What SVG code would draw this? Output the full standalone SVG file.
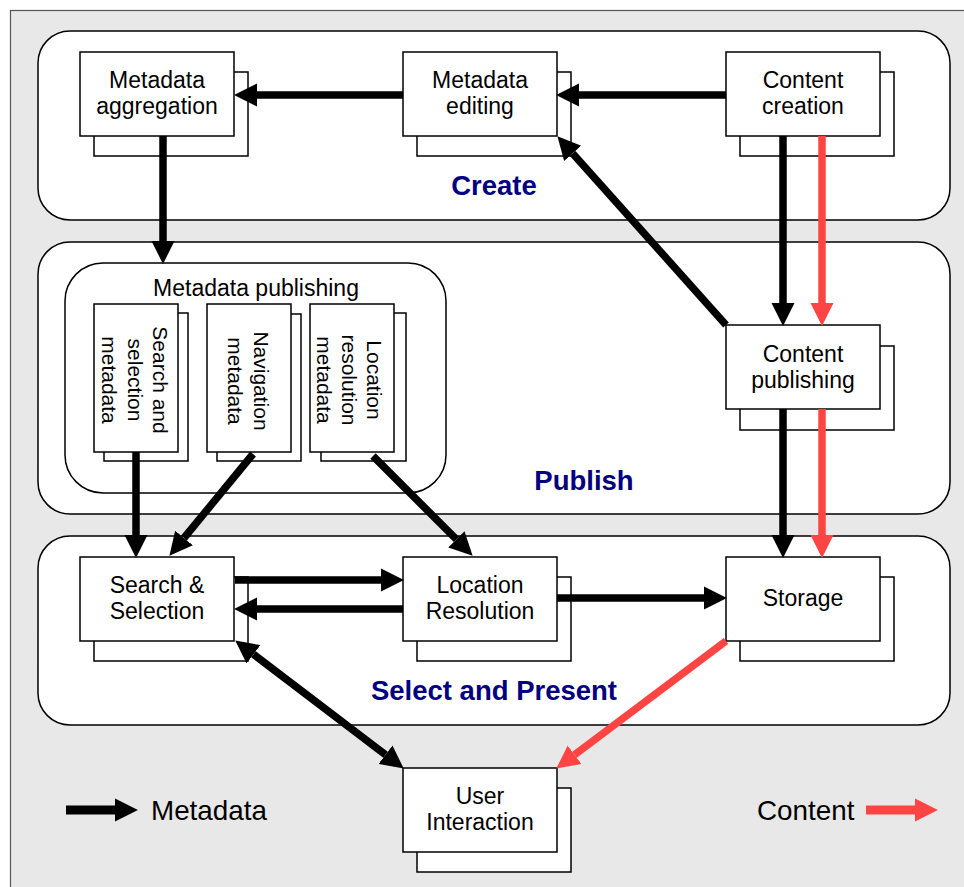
<svg xmlns="http://www.w3.org/2000/svg" width="964" height="887" viewBox="0 0 964 887">
<defs>
<style>
.frame{fill:#e8e8e8;stroke:#555;stroke-width:1.2}
.grp{fill:#fff;stroke:#000;stroke-width:1.5}
.box{fill:#fff;stroke:#000;stroke-width:1.5}
.t{font-family:"Liberation Sans",Arial,sans-serif;font-size:23px;fill:#000;text-anchor:middle}
.tv{font-family:"Liberation Sans",Arial,sans-serif;font-size:21px;fill:#000;text-anchor:middle}
.lbl{font-family:"Liberation Sans",Arial,sans-serif;font-size:27.5px;font-weight:bold;fill:#000080;text-anchor:middle}
.leg{font-family:"Liberation Sans",Arial,sans-serif;font-size:27.8px;fill:#000}
.m{stroke:#000;stroke-width:7.5;fill:none;marker-end:url(#ha)}
.c{stroke:#ff4444;stroke-width:7.5;fill:none;marker-end:url(#hr)}
</style>
<marker id="ha" markerUnits="userSpaceOnUse" markerWidth="24" markerHeight="24" refX="0" refY="11" orient="auto" viewBox="0 0 23 22"><path d="M0,0 L22,11 L0,22 z" fill="#000"/></marker>
<marker id="has" markerUnits="userSpaceOnUse" markerWidth="24" markerHeight="24" refX="0" refY="11" orient="auto-start-reverse" viewBox="0 0 23 22"><path d="M0,0 L22,11 L0,22 z" fill="#000"/></marker>
<marker id="hr" markerUnits="userSpaceOnUse" markerWidth="24" markerHeight="24" refX="0" refY="11" orient="auto" viewBox="0 0 23 22"><path d="M0,0 L22,11 L0,22 z" fill="#ff4444"/></marker>
</defs>
<rect class="frame" x="10.5" y="10.5" width="970" height="890"/>

<g id="create">
<rect class="grp" x="38" y="31" width="912" height="189" rx="32"/>
<text class="lbl" x="494" y="195">Create</text>
</g>
<g id="publish">
<rect class="grp" x="38" y="242" width="912" height="272" rx="32"/>
<text class="lbl" x="584" y="490">Publish</text>
</g>
<g id="select">
<rect class="grp" x="38" y="536" width="912" height="189" rx="32"/>
<text class="lbl" x="494" y="700">Select and Present</text>
</g>

<g id="metadata-aggregation">
<rect class="box" x="94" y="72" width="154" height="84"/>
<rect class="box" x="80" y="52" width="154" height="84"/>
<text class="t" x="157" y="88">Metadata</text>
<text class="t" x="157" y="114">aggregation</text>
</g>
<g id="metadata-editing">
<rect class="box" x="417" y="72" width="154" height="84"/>
<rect class="box" x="403" y="52" width="154" height="84"/>
<text class="t" x="480" y="88">Metadata</text>
<text class="t" x="480" y="114">editing</text>
</g>
<g id="content-creation">
<rect class="box" x="740" y="72" width="154" height="84"/>
<rect class="box" x="726" y="52" width="154" height="84"/>
<text class="t" x="803" y="88">Content</text>
<text class="t" x="803" y="114">creation</text>
</g>
<g id="content-publishing">
<rect class="box" x="740" y="346" width="154" height="84"/>
<rect class="box" x="726" y="325" width="154" height="84"/>
<text class="t" x="803" y="362">Content</text>
<text class="t" x="803" y="388">publishing</text>
</g>

<g id="metadata-publishing">
<rect class="grp" x="65" y="263" width="381" height="230" rx="38"/>
<text class="t" x="256" y="296">Metadata publishing</text>
<g id="search-selection-metadata">
<rect class="box" x="104" y="313" width="84" height="148"/>
<rect class="box" x="94" y="304" width="84" height="148"/>
<g transform="translate(136,380) rotate(90)">
<text class="tv" x="0" y="-17">Search and</text>
<text class="tv" x="0" y="8.5">selection</text>
<text class="tv" x="0" y="34">metadata</text>
</g>
</g>
<g id="navigation-metadata">
<rect class="box" x="217" y="314" width="84" height="147"/>
<rect class="box" x="207" y="304" width="84" height="148"/>
<g transform="translate(249.5,381) rotate(90)">
<text class="tv" x="0" y="-4">Navigation</text>
<text class="tv" x="0" y="21.5">metadata</text>
</g>
</g>
<g id="location-resolution-metadata">
<rect class="box" x="321" y="313" width="85" height="148"/>
<rect class="box" x="310" y="304" width="84" height="148"/>
<g transform="translate(352,380) rotate(90)">
<text class="tv" x="0" y="-15">Location</text>
<text class="tv" x="0" y="10">resolution</text>
<text class="tv" x="0" y="35">metadata</text>
</g>
</g>
</g>

<g id="search-selection">
<rect class="box" x="94" y="577" width="154" height="84"/>
<rect class="box" x="80" y="557" width="154" height="84"/>
<text class="t" x="157" y="593">Search &amp;</text>
<text class="t" x="157" y="619">Selection</text>
</g>
<g id="location-resolution">
<rect class="box" x="417" y="577" width="154" height="84"/>
<rect class="box" x="403" y="557" width="154" height="84"/>
<text class="t" x="480" y="593">Location</text>
<text class="t" x="480" y="619">Resolution</text>
</g>
<g id="storage">
<rect class="box" x="740" y="577" width="154" height="84"/>
<rect class="box" x="726" y="557" width="154" height="84"/>
<text class="t" x="803" y="606">Storage</text>
</g>
<g id="user-interaction">
<rect class="box" x="417" y="788" width="154" height="84"/>
<rect class="box" x="403" y="768" width="154" height="84"/>
<text class="t" x="480" y="804">User</text>
<text class="t" x="480" y="830">Interaction</text>
</g>

<g id="connectors">
<line class="m" x1="403" y1="95" x2="257" y2="95"/>
<line class="m" x1="726" y1="95" x2="579" y2="95"/>
<line class="m" x1="163" y1="136" x2="163" y2="241"/>
<line class="m" x1="726" y1="325" x2="572.7" y2="153.4"/>
<line class="m" x1="783" y1="136" x2="783" y2="303"/>
<line class="c" x1="822" y1="136" x2="822" y2="303"/>
<line class="m" x1="783" y1="409" x2="783" y2="535"/>
<line class="c" x1="822" y1="409" x2="822" y2="535"/>
<line class="m" x1="136" y1="452" x2="136" y2="535"/>
<line class="m" x1="253" y1="454" x2="184" y2="538"/>
<line class="m" x1="373" y1="456" x2="456.4" y2="539.4"/>
<line class="m" x1="235" y1="580" x2="381" y2="580"/>
<line class="m" x1="403" y1="609" x2="257" y2="609"/>
<line class="m" x1="557" y1="598" x2="704" y2="598"/>
<line class="m" x1="253.5" y1="654.3" x2="385.5" y2="754.7" style="marker-start:url(#has)"/>
<line class="c" x1="726" y1="641" x2="574.6" y2="754.8"/>
</g>

<g id="legend">
<line class="m" x1="66" y1="810" x2="115" y2="810" style="stroke-width:9"/>
<text class="leg" x="151" y="820">Metadata</text>
<text class="leg" x="757" y="820">Content</text>
<line class="c" x1="866" y1="810" x2="915" y2="810" style="stroke-width:9"/>
</g>
</svg>
